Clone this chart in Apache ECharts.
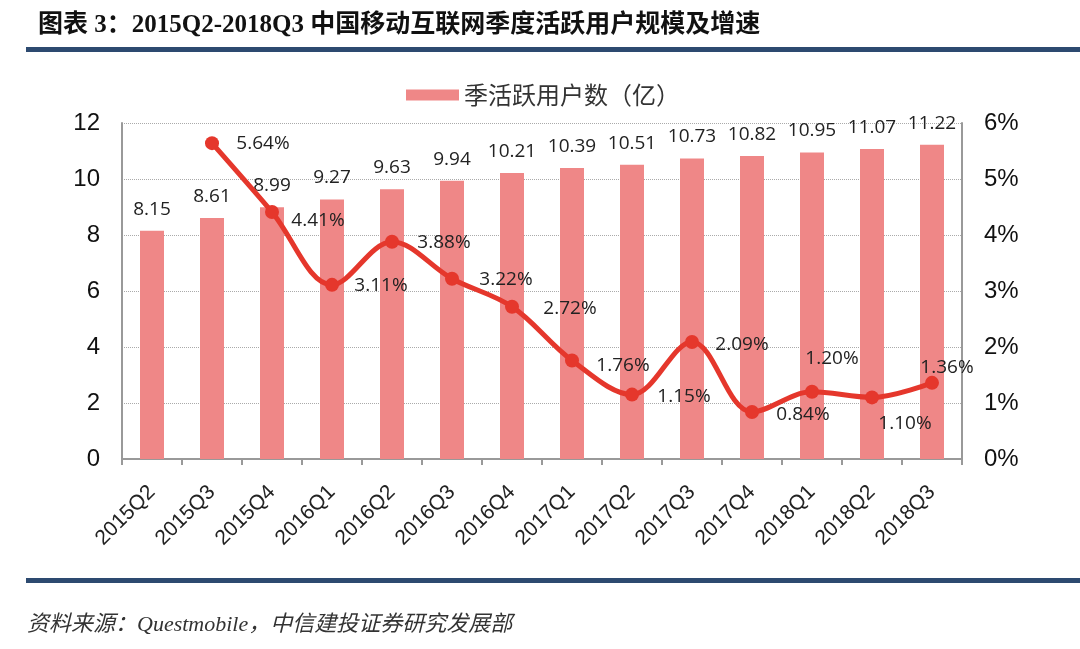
<!DOCTYPE html>
<html>
<head>
<meta charset="utf-8">
<script src="https://cdn.jsdelivr.net/npm/echarts@6/dist/echarts.min.js"></script>
<style>
html,body{margin:0;padding:0;background:#fff;}
#chart{width:1080px;height:649px;}
</style>
</head>
<body>
<div id="chart"></div>
<script>
var categories = ['2015Q2','2015Q3','2015Q4','2016Q1','2016Q2','2016Q3','2016Q4','2017Q1','2017Q2','2017Q3','2017Q4','2018Q1','2018Q2','2018Q3'];
var users = [8.15, 8.61, 8.99, 9.27, 9.63, 9.94, 10.21, 10.39, 10.51, 10.73, 10.82, 10.95, 11.07, 11.22];
var growth = [null, 5.64, 4.41, 3.11, 3.88, 3.22, 2.72, 1.76, 1.15, 2.09, 0.84, 1.20, 1.10, 1.36];
var leftTicks = [0, 12, 2];
var rightTicks = [0, 6, 1];

// label offsets for growth labels (layout only)
var growthLabelOffsets = [null,[51,0],[46,9],[49,1],[52,1],[54,1],[58,2],[51,5],[52,2],[50,3],[51,3],[20,-33],[33,26],[15,-15]];

var lineData = growth.map(function(v, i){
  if (v === null) return null;
  var off = growthLabelOffsets[i];
  return {value: v, label: {position: 'inside', offset: off}};
});

var chart = echarts.init(document.getElementById('chart'));
var latin = '"Liberation Sans", Arial, sans-serif';
chart.setOption({
  backgroundColor: '#ffffff',
  animation: false,
  grid: {left: 122, right: 118, top: 123, bottom: 190},
  legend: {
    data: ['季活跃用户数（亿）'],
    left: 401, top: 78,
    itemWidth: 53, itemHeight: 11, itemGap: 6,
    icon: 'rect',
    textStyle: {fontSize: 24, color: '#333', fontFamily: '"Noto Sans CJK SC", sans-serif'}
  },
  graphic: [
    {type: 'text', left: 38, top: 13, style: {text: '图表 3：2015Q2-2018Q3 中国移动互联网季度活跃用户规模及增速', fontSize: 25, fontWeight: 'bold', fill: '#111', fontFamily: '"Liberation Serif", "Noto Sans CJK SC", serif'}},
    {type: 'rect', shape: {x: 26, y: 47, width: 1054, height: 5}, style: {fill: '#2d4a70'}},
    {type: 'rect', shape: {x: 26, y: 578, width: 1054, height: 5}, style: {fill: '#2d4a70'}},
    {type: 'text', left: 27, top: 614, style: {text: '资料来源：Questmobile，中信建投证券研究发展部', fontSize: 22, fontStyle: 'italic', fill: '#333', fontFamily: '"Liberation Serif", "Noto Sans CJK SC", serif'}}
  ],
  xAxis: {
    type: 'category',
    data: categories,
    axisLine: {show: true, lineStyle: {color: '#999', width: 2}},
    axisTick: {show: true, length: 6, alignWithLabel: false, lineStyle: {color: '#999', width: 2}},
    axisLabel: {rotate: 45, fontSize: 21, color: '#222', margin: 30, fontFamily: latin, interval: 0}
  },
  yAxis: [
    {
      type: 'value', min: leftTicks[0], max: leftTicks[1], interval: leftTicks[2],
      axisLine: {show: true, lineStyle: {color: '#999', width: 2}},
      axisTick: {show: false},
      splitLine: {show: true, lineStyle: {color: '#aaa', type: 'dotted', width: 1}},
      axisLabel: {fontSize: 24, color: '#111', margin: 22, fontFamily: latin}
    },
    {
      type: 'value', min: rightTicks[0], max: rightTicks[1], interval: rightTicks[2],
      axisLine: {show: true, lineStyle: {color: '#999', width: 2}},
      axisTick: {show: false},
      splitLine: {show: false},
      axisLabel: {fontSize: 24, color: '#111', margin: 22, fontFamily: latin, formatter: '{value}%'}
    }
  ],
  series: [
    {
      name: '季活跃用户数（亿）',
      type: 'bar',
      data: users,
      barWidth: 24,
      itemStyle: {color: '#ef8787'},
      label: {show: true, position: 'top', distance: 12, fontSize: 19, color: '#222', fontFamily: '"Open Sans", sans-serif', formatter: function(p){return p.value.toFixed(2);}}
    },
    {
      name: 'growth',
      type: 'line',
      yAxisIndex: 1,
      data: lineData,
      smooth: 0.35,
      symbol: 'circle',
      symbolSize: 14,
      lineStyle: {color: '#e5372c', width: 5},
      itemStyle: {color: '#e5372c'},
      label: {show: true, fontSize: 19, color: '#222', fontFamily: '"Open Sans", sans-serif', formatter: function(p){return p.value.toFixed(2) + '%';}},
      z: 5
    }
  ]
});
</script>
</body>
</html>
